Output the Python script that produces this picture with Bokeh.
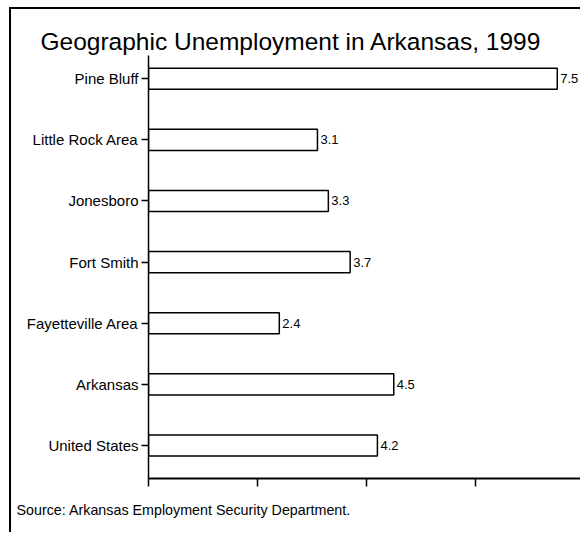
from bokeh.plotting import figure
from bokeh.models import Range1d, FixedTicker, Title, ColumnDataSource
from bokeh.embed import file_html
from bokeh.resources import INLINE
from bokeh.core.properties import value

categories = ["Pine Bluff", "Little Rock Area", "Jonesboro", "Fort Smith",
              "Fayetteville Area", "Arkansas", "United States"]
rates = [7.5, 3.1, 3.3, 3.7, 2.4, 4.5, 4.2]
x_ticks = [0, 2, 4, 6, 8]
title_text = "Geographic Unemployment in Arkansas, 1999"
source_text = "Source: Arkansas Employment Security Department."

FONT = "Liberation Sans"
n = len(categories)
ypos = [n - 1 - i for i in range(n)]
labels = [f"{r:.1f}" for r in rates]

src = ColumnDataSource(dict(y=ypos, rate=rates, label=labels, cat=categories))

W, H = 571, 525
p = figure(width=W, height=H, output_backend="svg", toolbar_location=None,
           x_range=Range1d(0, 7.963), y_range=Range1d(-0.54, 6.38),
           min_border_left=137, min_border_top=46, min_border_bottom=56,
           min_border_right=0, title=None)
p.styles = {"border-top": "2px solid black", "border-left": "2px solid black",
            "margin-left": "9px", "margin-top": "7px"}
p.outline_line_color = None
p.xgrid.visible = False
p.ygrid.visible = False
p.background_fill_color = "white"
p.border_fill_color = "white"

p.hbar(y="y", right="rate", left=0, height=0.345, fill_color="white",
       line_color="black", line_width=1.5, source=src)
p.text(x="rate", y="y", text="label", x_offset=3, text_baseline="middle",
       text_align="left", text_font=value(FONT), text_font_size="13px",
       text_color="black", source=src)

ya = p.yaxis[0]
ya.ticker = FixedTicker(ticks=ypos)
ya.major_label_overrides = {y: c for y, c in zip(ypos, categories)}
ya.major_tick_out = 7
ya.major_tick_in = 0
ya.minor_tick_line_color = None
ya.axis_line_width = 1.5
ya.major_tick_line_width = 1.5
ya.major_label_standoff = 3
ya.major_label_text_font = FONT
ya.major_label_text_font_size = "15px"
ya.major_label_text_color = "black"

xa = p.xaxis[0]
xa.ticker = FixedTicker(ticks=x_ticks)
xa.major_label_overrides = {t: "" for t in x_ticks}
xa.major_label_text_font_size = "0px"
xa.major_tick_out = 8
xa.major_tick_in = 0
xa.minor_tick_line_color = None
xa.axis_line_width = 2
xa.major_tick_line_width = 1.5

t = Title(text=title_text, align="left", offset=-108, standoff=2,
          text_font=FONT, text_font_size="24.5px", text_font_style="normal",
          text_color="black")
p.add_layout(t, "above")

s = Title(text=source_text, align="left", offset=-132, standoff=26,
          text_font=FONT, text_font_size="14.3px", text_font_style="normal",
          text_color="black")
p.add_layout(s, "below")

open("out.html", "w").write(file_html(p, INLINE))
